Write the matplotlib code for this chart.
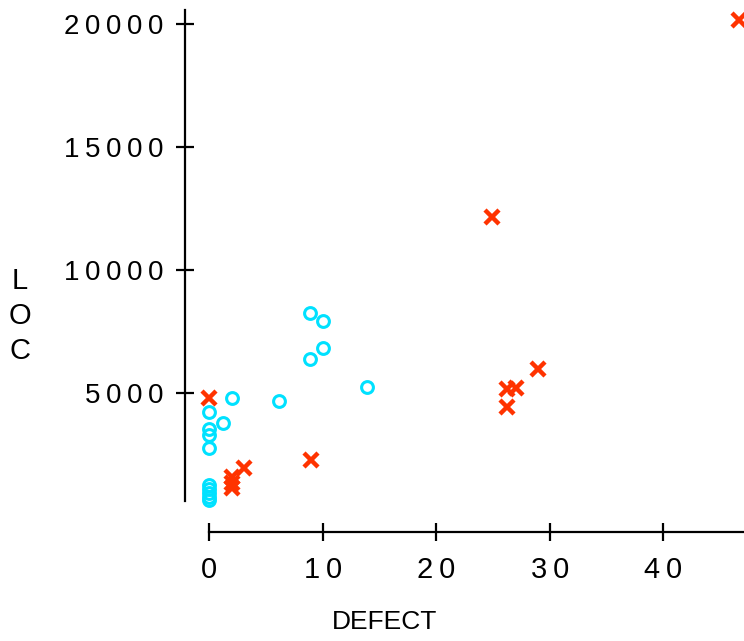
import matplotlib
matplotlib.use("Agg")
import matplotlib.pyplot as plt

plt.rcParams['font.family'] = ['Liberation Sans', 'DejaVu Sans']

# red crosses
x_defect = [0.0, 46.7, 24.9, 29.0, 26.2, 27.0, 26.2, 9.0, 3.1, 2.0, 2.0, 2.0]
x_loc = [4800, 20160, 12150, 5975, 5160, 5200, 4430, 2280, 1950, 1600, 1350, 1150]

# cyan circles
o_defect = [8.9, 10.0, 10.0, 8.9, 13.9, 6.2, 2.0, 0.0, 1.2, 0.0, 0.0, 0.0,
            0.0, 0.0, 0.0, 0.0, 0.0]
o_loc = [8250, 7930, 6830, 6380, 5240, 4670, 4800, 4230, 3780, 3540, 3290, 2760,
         1250, 1080, 930, 790, 660]

x_ticks = [0, 10, 20, 30, 40]
y_ticks = [5000, 10000, 15000, 20000]

red = "#ff3300"
cyan = "#00e1ff"

fig = plt.figure(figsize=(7.44, 6.41), dpi=100)
ax = fig.add_axes([185 / 744, 1 - 532 / 641, 1 - 185 / 744, 532 / 641])

ax.plot(o_defect, o_loc, linestyle="none", marker="o", markersize=8.5,
        markerfacecolor="none", markeredgecolor=cyan, markeredgewidth=2.2, clip_on=False)
ax.plot(x_defect, x_loc, linestyle="none", marker="x", markersize=9.5,
        color=red, markeredgewidth=3.2, clip_on=False)

ax.set_xlim(-2.11, 47.1)
ax.set_ylim(-650, 20975)

for side in ["top", "right"]:
    ax.spines[side].set_visible(False)
ax.spines["left"].set_bounds(610, 20570)
ax.spines["bottom"].set_bounds(0, 47.1)
ax.spines["left"].set_linewidth(1.6)
ax.spines["bottom"].set_linewidth(1.6)

ax.set_xticks(x_ticks)
ax.set_xticklabels(["\u2009".join(str(t)) for t in x_ticks], fontsize=21)
ax.set_yticks(y_ticks)
ax.set_yticklabels(["\u2009".join(str(t)) for t in y_ticks], fontsize=20)
ax.tick_params(axis="both", direction="inout", length=13, width=1.6)
ax.tick_params(axis="x", pad=11)
ax.tick_params(axis="y", pad=9)

fig.text(20 / 744, 1 - 316 / 641, "L\nO\nC", fontsize=21, ha="center", va="center",
         linespacing=1.3)
fig.text(385 / 744, 1 - 622 / 641, "DEFECT", fontsize=19, ha="center", va="center")

fig.savefig("out.png", dpi=100)
